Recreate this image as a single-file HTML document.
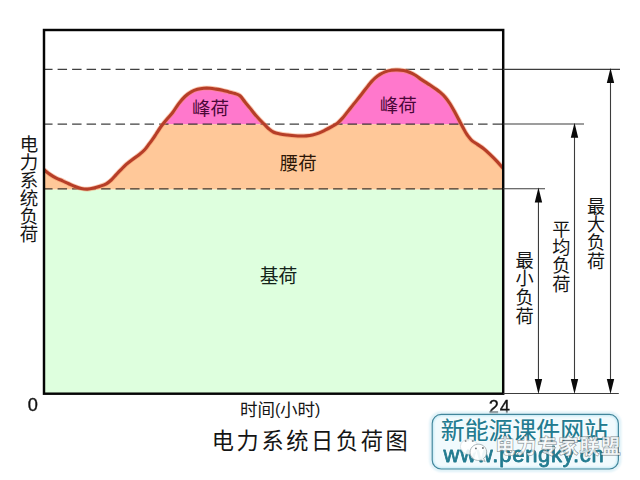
<!DOCTYPE html>
<html><head><meta charset="utf-8"><title>电力系统日负荷图</title>
<style>
html,body{margin:0;padding:0;background:#fff}
body{width:640px;height:480px;overflow:hidden;position:relative;font-family:"Liberation Sans",sans-serif}
svg{position:absolute;left:0;top:0;display:block}
</style></head><body>
<svg width="640" height="480" viewBox="0 0 640 480">
<rect x="44" y="189.3" width="459.2" height="204.4" fill="#deffde"/>
<clipPath id="cl"><path d="M44,169.8C45,170.567 47.958,173.017 50,174.4C52.042,175.783 54.167,177.033 56.25,178.1C58.333,179.167 60.417,179.858 62.5,180.8C64.583,181.742 66.667,182.8 68.75,183.75C70.833,184.7 72.917,185.708 75,186.5C77.083,187.292 79.167,188.067 81.25,188.5C83.333,188.933 85.417,189.167 87.5,189.1C89.583,189.033 91.667,188.575 93.75,188.1C95.833,187.625 97.917,186.967 100,186.25C102.083,185.533 104.375,184.842 106.25,183.8C108.125,182.758 109.583,181.533 111.25,180C112.917,178.467 114.625,176.333 116.25,174.6C117.875,172.867 119.333,171.3 121,169.6C122.667,167.9 124.333,166.1 126.25,164.4C128.167,162.7 130.417,160.967 132.5,159.4C134.583,157.833 136.767,156.567 138.75,155C140.733,153.433 142.733,151.767 144.4,150C146.067,148.233 147.4,146.167 148.75,144.4C150.1,142.633 151.25,141.175 152.5,139.4C153.75,137.625 155,135.65 156.25,133.75C157.5,131.85 158.75,129.792 160,128C161.25,126.208 162.5,124.583 163.75,123C165,121.417 166.042,120.2 167.5,118.5C168.958,116.8 170.625,115.283 172.5,112.8C174.375,110.317 176.667,106.317 178.75,103.6C180.833,100.883 182.917,98.45 185,96.5C187.083,94.55 189.167,93.1 191.25,91.9C193.333,90.7 195.417,89.917 197.5,89.3C199.583,88.683 201.667,88.383 203.75,88.2C205.833,88.017 207.917,88.05 210,88.2C212.083,88.35 214.167,88.75 216.25,89.1C218.333,89.45 220.417,89.833 222.5,90.3C224.583,90.767 226.667,91.367 228.75,91.9C230.833,92.433 233.125,92.85 235,93.5C236.875,94.15 238.333,94.383 240,95.8C241.667,97.217 243.333,99.95 245,102C246.667,104.05 248.333,106.033 250,108.1C251.667,110.167 253.333,112.417 255,114.4C256.667,116.383 258.433,118.333 260,120C261.567,121.667 262.942,122.942 264.4,124.4C265.858,125.858 267.192,127.442 268.75,128.75C270.308,130.058 271.875,131.392 273.75,132.25C275.625,133.108 277.708,133.442 280,133.9C282.292,134.358 285,134.683 287.5,135C290,135.317 292.5,135.633 295,135.8C297.5,135.967 300.625,135.983 302.5,136C304.375,136.017 304.583,136.067 306.25,135.9C307.917,135.733 310.417,135.467 312.5,135C314.583,134.533 316.667,133.9 318.75,133.1C320.833,132.3 322.917,131.233 325,130.2C327.083,129.167 329.167,128.083 331.25,126.9C333.333,125.717 335.625,124.567 337.5,123.1C339.375,121.633 340.833,119.967 342.5,118.1C344.167,116.233 345.833,113.983 347.5,111.9C349.167,109.817 350.833,107.683 352.5,105.6C354.167,103.517 355.833,101.5 357.5,99.4C359.167,97.3 360.833,95.133 362.5,93C364.167,90.867 366,88.5 367.5,86.6C369,84.7 370.25,83.017 371.5,81.6C372.75,80.183 373.583,79.3 375,78.1C376.417,76.9 378.333,75.433 380,74.4C381.667,73.367 383.125,72.592 385,71.9C386.875,71.208 389.167,70.567 391.25,70.25C393.333,69.933 395.417,69.942 397.5,70C399.583,70.058 401.667,70.183 403.75,70.6C405.833,71.017 408.125,71.767 410,72.5C411.875,73.233 413.333,73.983 415,75C416.667,76.017 418.333,77.45 420,78.6C421.667,79.75 423.333,80.833 425,81.9C426.667,82.967 428.333,83.917 430,85C431.667,86.083 433.333,87.217 435,88.4C436.667,89.583 438.333,90.683 440,92.1C441.667,93.517 443.333,94.958 445,96.9C446.667,98.842 448.333,101.15 450,103.75C451.667,106.35 453.333,109.475 455,112.5C456.667,115.525 458.583,119.233 460,121.9C461.417,124.567 462.5,126.65 463.5,128.5C464.5,130.35 465.167,131.65 466,133C466.833,134.35 467.517,135.333 468.5,136.6C469.483,137.867 470.4,139.3 471.9,140.6C473.4,141.9 475.525,143.042 477.5,144.4C479.475,145.758 481.667,147.083 483.75,148.75C485.833,150.417 487.917,152.425 490,154.4C492.083,156.375 494.267,158.517 496.25,160.6C498.233,162.683 500.442,165.333 501.9,166.9C503.358,168.467 504.483,169.483 505,170L503.2,393.7L44,393.7Z"/></clipPath>
<g clip-path="url(#cl)">
<rect x="44" y="40" width="459.2" height="84.4" fill="#ff78cc"/>
<rect x="44" y="124.3" width="459.2" height="65.1" fill="#ffc899"/>
</g>
<line x1="44" y1="69.4" x2="503.2" y2="69.4" stroke="#161616" stroke-opacity=".82" stroke-width="1.25" stroke-dasharray="9.45 5.05" stroke-dashoffset="0.9"/>
<line x1="44" y1="124" x2="503.2" y2="124" stroke="#161616" stroke-opacity=".82" stroke-width="1.25" stroke-dasharray="9.45 5.05" stroke-dashoffset="0.9"/>
<line x1="44" y1="188.8" x2="503.2" y2="188.8" stroke="#161616" stroke-opacity=".82" stroke-width="1.25" stroke-dasharray="9.45 5.05" stroke-dashoffset="0.9"/>
<clipPath id="fr"><rect x="44" y="30" width="459.2" height="363.7"/></clipPath><g clip-path="url(#fr)">
<path d="M44,169.8C45,170.567 47.958,173.017 50,174.4C52.042,175.783 54.167,177.033 56.25,178.1C58.333,179.167 60.417,179.858 62.5,180.8C64.583,181.742 66.667,182.8 68.75,183.75C70.833,184.7 72.917,185.708 75,186.5C77.083,187.292 79.167,188.067 81.25,188.5C83.333,188.933 85.417,189.167 87.5,189.1C89.583,189.033 91.667,188.575 93.75,188.1C95.833,187.625 97.917,186.967 100,186.25C102.083,185.533 104.375,184.842 106.25,183.8C108.125,182.758 109.583,181.533 111.25,180C112.917,178.467 114.625,176.333 116.25,174.6C117.875,172.867 119.333,171.3 121,169.6C122.667,167.9 124.333,166.1 126.25,164.4C128.167,162.7 130.417,160.967 132.5,159.4C134.583,157.833 136.767,156.567 138.75,155C140.733,153.433 142.733,151.767 144.4,150C146.067,148.233 147.4,146.167 148.75,144.4C150.1,142.633 151.25,141.175 152.5,139.4C153.75,137.625 155,135.65 156.25,133.75C157.5,131.85 158.75,129.792 160,128C161.25,126.208 162.5,124.583 163.75,123C165,121.417 166.042,120.2 167.5,118.5C168.958,116.8 170.625,115.283 172.5,112.8C174.375,110.317 176.667,106.317 178.75,103.6C180.833,100.883 182.917,98.45 185,96.5C187.083,94.55 189.167,93.1 191.25,91.9C193.333,90.7 195.417,89.917 197.5,89.3C199.583,88.683 201.667,88.383 203.75,88.2C205.833,88.017 207.917,88.05 210,88.2C212.083,88.35 214.167,88.75 216.25,89.1C218.333,89.45 220.417,89.833 222.5,90.3C224.583,90.767 226.667,91.367 228.75,91.9C230.833,92.433 233.125,92.85 235,93.5C236.875,94.15 238.333,94.383 240,95.8C241.667,97.217 243.333,99.95 245,102C246.667,104.05 248.333,106.033 250,108.1C251.667,110.167 253.333,112.417 255,114.4C256.667,116.383 258.433,118.333 260,120C261.567,121.667 262.942,122.942 264.4,124.4C265.858,125.858 267.192,127.442 268.75,128.75C270.308,130.058 271.875,131.392 273.75,132.25C275.625,133.108 277.708,133.442 280,133.9C282.292,134.358 285,134.683 287.5,135C290,135.317 292.5,135.633 295,135.8C297.5,135.967 300.625,135.983 302.5,136C304.375,136.017 304.583,136.067 306.25,135.9C307.917,135.733 310.417,135.467 312.5,135C314.583,134.533 316.667,133.9 318.75,133.1C320.833,132.3 322.917,131.233 325,130.2C327.083,129.167 329.167,128.083 331.25,126.9C333.333,125.717 335.625,124.567 337.5,123.1C339.375,121.633 340.833,119.967 342.5,118.1C344.167,116.233 345.833,113.983 347.5,111.9C349.167,109.817 350.833,107.683 352.5,105.6C354.167,103.517 355.833,101.5 357.5,99.4C359.167,97.3 360.833,95.133 362.5,93C364.167,90.867 366,88.5 367.5,86.6C369,84.7 370.25,83.017 371.5,81.6C372.75,80.183 373.583,79.3 375,78.1C376.417,76.9 378.333,75.433 380,74.4C381.667,73.367 383.125,72.592 385,71.9C386.875,71.208 389.167,70.567 391.25,70.25C393.333,69.933 395.417,69.942 397.5,70C399.583,70.058 401.667,70.183 403.75,70.6C405.833,71.017 408.125,71.767 410,72.5C411.875,73.233 413.333,73.983 415,75C416.667,76.017 418.333,77.45 420,78.6C421.667,79.75 423.333,80.833 425,81.9C426.667,82.967 428.333,83.917 430,85C431.667,86.083 433.333,87.217 435,88.4C436.667,89.583 438.333,90.683 440,92.1C441.667,93.517 443.333,94.958 445,96.9C446.667,98.842 448.333,101.15 450,103.75C451.667,106.35 453.333,109.475 455,112.5C456.667,115.525 458.583,119.233 460,121.9C461.417,124.567 462.5,126.65 463.5,128.5C464.5,130.35 465.167,131.65 466,133C466.833,134.35 467.517,135.333 468.5,136.6C469.483,137.867 470.4,139.3 471.9,140.6C473.4,141.9 475.525,143.042 477.5,144.4C479.475,145.758 481.667,147.083 483.75,148.75C485.833,150.417 487.917,152.425 490,154.4C492.083,156.375 494.267,158.517 496.25,160.6C498.233,162.683 500.442,165.333 501.9,166.9C503.358,168.467 504.483,169.483 505,170" fill="none" stroke="#f59060" stroke-width="4.8" stroke-opacity=".5" stroke-linejoin="round"/>
<path d="M44,169.8C45,170.567 47.958,173.017 50,174.4C52.042,175.783 54.167,177.033 56.25,178.1C58.333,179.167 60.417,179.858 62.5,180.8C64.583,181.742 66.667,182.8 68.75,183.75C70.833,184.7 72.917,185.708 75,186.5C77.083,187.292 79.167,188.067 81.25,188.5C83.333,188.933 85.417,189.167 87.5,189.1C89.583,189.033 91.667,188.575 93.75,188.1C95.833,187.625 97.917,186.967 100,186.25C102.083,185.533 104.375,184.842 106.25,183.8C108.125,182.758 109.583,181.533 111.25,180C112.917,178.467 114.625,176.333 116.25,174.6C117.875,172.867 119.333,171.3 121,169.6C122.667,167.9 124.333,166.1 126.25,164.4C128.167,162.7 130.417,160.967 132.5,159.4C134.583,157.833 136.767,156.567 138.75,155C140.733,153.433 142.733,151.767 144.4,150C146.067,148.233 147.4,146.167 148.75,144.4C150.1,142.633 151.25,141.175 152.5,139.4C153.75,137.625 155,135.65 156.25,133.75C157.5,131.85 158.75,129.792 160,128C161.25,126.208 162.5,124.583 163.75,123C165,121.417 166.042,120.2 167.5,118.5C168.958,116.8 170.625,115.283 172.5,112.8C174.375,110.317 176.667,106.317 178.75,103.6C180.833,100.883 182.917,98.45 185,96.5C187.083,94.55 189.167,93.1 191.25,91.9C193.333,90.7 195.417,89.917 197.5,89.3C199.583,88.683 201.667,88.383 203.75,88.2C205.833,88.017 207.917,88.05 210,88.2C212.083,88.35 214.167,88.75 216.25,89.1C218.333,89.45 220.417,89.833 222.5,90.3C224.583,90.767 226.667,91.367 228.75,91.9C230.833,92.433 233.125,92.85 235,93.5C236.875,94.15 238.333,94.383 240,95.8C241.667,97.217 243.333,99.95 245,102C246.667,104.05 248.333,106.033 250,108.1C251.667,110.167 253.333,112.417 255,114.4C256.667,116.383 258.433,118.333 260,120C261.567,121.667 262.942,122.942 264.4,124.4C265.858,125.858 267.192,127.442 268.75,128.75C270.308,130.058 271.875,131.392 273.75,132.25C275.625,133.108 277.708,133.442 280,133.9C282.292,134.358 285,134.683 287.5,135C290,135.317 292.5,135.633 295,135.8C297.5,135.967 300.625,135.983 302.5,136C304.375,136.017 304.583,136.067 306.25,135.9C307.917,135.733 310.417,135.467 312.5,135C314.583,134.533 316.667,133.9 318.75,133.1C320.833,132.3 322.917,131.233 325,130.2C327.083,129.167 329.167,128.083 331.25,126.9C333.333,125.717 335.625,124.567 337.5,123.1C339.375,121.633 340.833,119.967 342.5,118.1C344.167,116.233 345.833,113.983 347.5,111.9C349.167,109.817 350.833,107.683 352.5,105.6C354.167,103.517 355.833,101.5 357.5,99.4C359.167,97.3 360.833,95.133 362.5,93C364.167,90.867 366,88.5 367.5,86.6C369,84.7 370.25,83.017 371.5,81.6C372.75,80.183 373.583,79.3 375,78.1C376.417,76.9 378.333,75.433 380,74.4C381.667,73.367 383.125,72.592 385,71.9C386.875,71.208 389.167,70.567 391.25,70.25C393.333,69.933 395.417,69.942 397.5,70C399.583,70.058 401.667,70.183 403.75,70.6C405.833,71.017 408.125,71.767 410,72.5C411.875,73.233 413.333,73.983 415,75C416.667,76.017 418.333,77.45 420,78.6C421.667,79.75 423.333,80.833 425,81.9C426.667,82.967 428.333,83.917 430,85C431.667,86.083 433.333,87.217 435,88.4C436.667,89.583 438.333,90.683 440,92.1C441.667,93.517 443.333,94.958 445,96.9C446.667,98.842 448.333,101.15 450,103.75C451.667,106.35 453.333,109.475 455,112.5C456.667,115.525 458.583,119.233 460,121.9C461.417,124.567 462.5,126.65 463.5,128.5C464.5,130.35 465.167,131.65 466,133C466.833,134.35 467.517,135.333 468.5,136.6C469.483,137.867 470.4,139.3 471.9,140.6C473.4,141.9 475.525,143.042 477.5,144.4C479.475,145.758 481.667,147.083 483.75,148.75C485.833,150.417 487.917,152.425 490,154.4C492.083,156.375 494.267,158.517 496.25,160.6C498.233,162.683 500.442,165.333 501.9,166.9C503.358,168.467 504.483,169.483 505,170" fill="none" stroke="#b63e28" stroke-width="3.1" stroke-linejoin="round"/>
</g>
<rect x="44" y="30" width="459.2" height="363.7" fill="none" stroke="#050505" stroke-width="2.45"/>
<line x1="503.2" y1="69.4" x2="620" y2="69.4" stroke="#3c3c3c" stroke-width="1.1"/>
<line x1="503.2" y1="124" x2="584" y2="124" stroke="#3c3c3c" stroke-width="1.1"/>
<line x1="503.2" y1="188.8" x2="545" y2="188.8" stroke="#3c3c3c" stroke-width="1.1"/>
<line x1="503.2" y1="393.5" x2="618.8" y2="393.5" stroke="#3c3c3c" stroke-width="1.1"/>
<line x1="538.45" y1="194.8" x2="538.45" y2="387.2" stroke="#3c3c3c" stroke-width="1.1"/>
<path d="M538.45,187.5l-3.7,15h7.4z M538.45,394.1l-3.7,-15h7.4z" fill="#0a0a0a"/>
<line x1="574.5" y1="130" x2="574.5" y2="387.2" stroke="#3c3c3c" stroke-width="1.1"/>
<path d="M574.5,122.7l-3.7,15h7.4z M574.5,394.1l-3.7,-15h7.4z" fill="#0a0a0a"/>
<line x1="610.5" y1="75.4" x2="610.5" y2="387.2" stroke="#3c3c3c" stroke-width="1.1"/>
<path d="M610.5,68.1l-3.7,15h7.4z M610.5,394.1l-3.7,-15h7.4z" fill="#0a0a0a"/>
<text font-family="'Liberation Sans','Noto Sans CJK SC',sans-serif" font-size="18.5" fill="#151515" text-anchor="middle"><tspan x="28.97" y="150.5">电</tspan><tspan x="28.97" y="168.6">力</tspan><tspan x="28.97" y="186.7">系</tspan><tspan x="28.97" y="204.8">统</tspan><tspan x="28.97" y="222.9">负</tspan><tspan x="28.97" y="241">荷</tspan></text>
<text x="192" y="114.7" font-family="'Liberation Sans','Noto Sans CJK SC',sans-serif" font-size="18.5" fill="#4a0838">峰荷</text>
<text x="379.8" y="111.9" font-family="'Liberation Sans','Noto Sans CJK SC',sans-serif" font-size="18.5" fill="#4a0838">峰荷</text>
<text x="279.8" y="169.9" font-family="'Liberation Sans','Noto Sans CJK SC',sans-serif" font-size="18.4" fill="#2c1606">腰荷</text>
<text x="259.8" y="282.5" font-family="'Liberation Sans','Noto Sans CJK SC',sans-serif" font-size="18.8" fill="#14241a">基荷</text>
<text font-family="'Liberation Sans','Noto Sans CJK SC',sans-serif" font-size="18.2" fill="#151515" text-anchor="middle"><tspan x="524.64" y="266.7">最</tspan><tspan x="524.64" y="285.3">小</tspan><tspan x="524.64" y="303.9">负</tspan><tspan x="524.64" y="322.5">荷</tspan></text>
<text font-family="'Liberation Sans','Noto Sans CJK SC',sans-serif" font-size="18.2" fill="#151515" text-anchor="middle"><tspan x="561.33" y="235.9">平</tspan><tspan x="561.33" y="254.1">均</tspan><tspan x="561.33" y="272.3">负</tspan><tspan x="561.33" y="290.5">荷</tspan></text>
<text font-family="'Liberation Sans','Noto Sans CJK SC',sans-serif" font-size="18" fill="#151515" text-anchor="middle"><tspan x="595.89" y="212.7">最</tspan><tspan x="595.89" y="231.1">大</tspan><tspan x="595.89" y="249.4">负</tspan><tspan x="595.89" y="267.8">荷</tspan></text>
<text y="416" font-family="'Liberation Sans','Noto Sans CJK SC',sans-serif" font-size="17.5" fill="#151515"><tspan x="239.9">时间</tspan><tspan x="275.1" y="415.1" font-size="15.8">(</tspan><tspan x="280" y="416">小时</tspan><tspan x="315" y="415.1" font-size="15.8">)</tspan></text>
<text x="211.7" y="449.2" font-family="'Liberation Sans','Noto Sans CJK SC',sans-serif" font-size="22.2" letter-spacing="2.66" fill="#151515">电力系统日负荷图</text>
<g opacity=".999">
<text x="27.7" y="410.5" font-family="Liberation Sans, sans-serif" font-size="18.2" fill="#111" stroke="#111" stroke-width=".35">0</text>
<text x="488.7" y="413.3" font-family="Liberation Sans, sans-serif" font-size="18.2" letter-spacing=".9" fill="#111" stroke="#111" stroke-width=".35">24</text>
</g>
<defs><filter id="bl" x="-10%" y="-30%" width="120%" height="160%"><feGaussianBlur stdDeviation="1.3"/></filter><clipPath id="wb"><rect x="432.2" y="414.4" width="186.2" height="54.6" rx="9" ry="9"/></clipPath></defs>
<rect x="430.7" y="412.9" width="189.2" height="57.6" rx="10.5" ry="10.5" fill="none" stroke="#d8eef6" stroke-width="2.5" filter="url(#bl)"/>
<rect x="432.2" y="414.4" width="186.2" height="54.6" rx="9" ry="9" fill="#f1fafd"/>
<g clip-path="url(#wb)"><rect x="432.2" y="414.4" width="186.2" height="54.6" rx="9" ry="9" fill="none" stroke="#bfe8f5" stroke-width="3.2" filter="url(#bl)"/></g>
<rect x="432.2" y="414.4" width="186.2" height="54.6" rx="9" ry="9" fill="none" stroke="#41859a" stroke-width="1.15"/>
<text x="440.8" y="438.9" font-family="'Liberation Sans','Noto Sans CJK SC',sans-serif" font-size="23.9" fill="#227b90" stroke="#fff" stroke-width="1.67" stroke-opacity=".55" stroke-linejoin="round" aria-hidden="true">新能源课件网站</text>
<text x="440.8" y="438.9" font-family="'Liberation Sans','Noto Sans CJK SC',sans-serif" font-size="23.9" fill="#227b90">新能源课件网站</text>
<g opacity=".999">
<text x="443.6" y="462.1" font-family="Liberation Sans, sans-serif" font-size="22" letter-spacing=".75" fill="#fff" fill-opacity=".5" stroke="#fff" stroke-width="2.6" stroke-opacity=".5" stroke-linejoin="round" aria-hidden="true">www.pengky.cn</text>
<text x="443.6" y="462.1" font-family="Liberation Sans, sans-serif" font-size="22" letter-spacing=".75" fill="#227b90" stroke="#227b90" stroke-width=".8" stroke-linejoin="round">www.pengky.cn</text>
</g>
<g stroke-linejoin="round"><ellipse cx="469" cy="446.6" rx="8.6" ry="7.6" fill="#fff" fill-opacity=".88" stroke="#c9d3d6" stroke-width=".6"/><path d="M470.1,452.2a8.3,8 0 1 1 13.5,6.2l1.6,3.2l-4,-1.6a8.3,8 0 0 1 -11.1,-7.8z" fill="#fff" fill-opacity=".93" stroke="#9ba6aa" stroke-width=".8"/><circle cx="465.6" cy="441" r="1" fill="#8a9092"/><circle cx="472.8" cy="441" r="1" fill="#8a9092"/><circle cx="475.9" cy="448.4" r=".95" fill="#6c7478"/><circle cx="482.9" cy="448" r=".95" fill="#6c7478"/></g>
<text x="495.3" y="454.3" font-family="'Liberation Sans','Noto Sans CJK SC',sans-serif" font-size="19.9" font-weight="bold" letter-spacing="1.19" fill="#fff" fill-opacity=".72" stroke="#4e5a60" stroke-width=".88" stroke-opacity=".75" paint-order="stroke">电力专家联盟</text>
</svg>
</body></html>
